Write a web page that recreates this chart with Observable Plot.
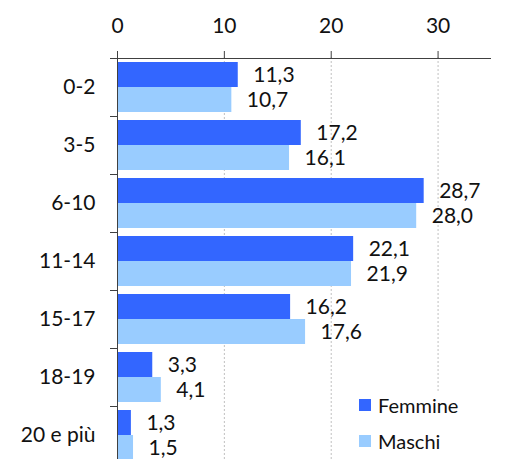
<!DOCTYPE html>
<html><head><meta charset="utf-8">
<script src="https://cdn.jsdelivr.net/npm/d3@7"></script>
<script src="https://cdn.jsdelivr.net/npm/@observablehq/plot@0.6"></script>
<style>
html,body{margin:0;padding:0;background:#fff;}
#wrap{position:relative;width:524px;height:459px;overflow:hidden;font-family:Lato,sans-serif;}
#legend{position:absolute;left:348px;top:392px;width:150px;height:67px;background:#fff;font-size:20px;color:#111;}
.item{position:absolute;left:11px;display:flex;align-items:center;}
.sw{width:12px;height:12px;margin-right:7px;}
</style></head>
<body><div id="wrap"><div id="chart"></div><div id="legend"></div></div>
<script>
const categories = ["0-2","3-5","6-10","11-14","15-17","18-19","20 e più"];
const femmine = [11.3,17.2,28.7,22.1,16.2,3.3,1.3];
const maschi = [10.7,16.1,28.0,21.9,17.6,4.1,1.5];
const seriesNames = ["Femmine","Maschi"];
const colors = ["#3366FF","#99CCFF"];
const xTicks = [0,10,20,30];

const fmt = v => v.toFixed(1).replace(".", ",");
const dataF = categories.map((c,i)=>({cat:c, value:femmine[i], s:"Femmine"}));
const dataM = categories.map((c,i)=>({cat:c, value:maschi[i], s:"Maschi"}));
const axisColor = "#404040";
const fs = 21;

const chart = Plot.plot({
  width: 524, height: 459,
  marginTop: 57, marginBottom: 0, marginLeft: 117, marginRight: 33,
  style: {fontFamily: "Lato, sans-serif", fontSize: fs + "px", color: "#111", background: "#fff"},
  x: {domain: [0,35], axis: null, label: null},
  y: {domain: categories, range: [57.5, 463.5], padding: 0, axis: null, label: null},
  color: {domain: seriesNames, range: colors},
  marks: [
    Plot.gridX(xTicks.filter(d=>d>0), {stroke: "#c0c0c0", strokeOpacity: 1, strokeDasharray: "2,2"}),
    Plot.barX(dataF, {x: "value", y: "cat", fill: colors[0], insetTop: 4, insetBottom: 29}),
    Plot.barX(dataM, {x: "value", y: "cat", fill: colors[1], insetTop: 29, insetBottom: 4}),
    Plot.text(dataF, {x: "value", y: "cat", text: d=>fmt(d.value), dy: -12.5, dx: 15, textAnchor: "start", fontSize: fs, fill: "#111"}),
    Plot.text(dataM, {x: "value", y: "cat", text: d=>fmt(d.value), dy: 12.5, dx: 15, textAnchor: "start", fontSize: fs, fill: "#111"}),
    Plot.ruleX([0], {stroke: axisColor}),
    Plot.ruleY(categories, {y: d=>d, dy: -29, x1: 0, x2: 0, insetLeft: -7, stroke: axisColor}),
    Plot.ruleY([categories[0]], {y: d=>d, dy: -29, x1: 0, x2: 35, insetLeft: -7, stroke: axisColor}),
    Plot.axisX({anchor: "top", ticks: xTicks, tickSize: 7, tickPadding: 18, stroke: axisColor, fontSize: fs, tickFormat: d=>d, fill:"#111", label: null}),
    Plot.axisY({anchor: "left", tickSize: 0, tickPadding: 22, fontSize: fs, fill: "#111", label: null})
  ]
});
document.getElementById("chart").appendChild(chart);

const legend = document.getElementById("legend");
seriesNames.forEach((name,i)=>{
  const it = document.createElement("div");
  it.className = "item";
  it.style.top = (i===0 ? 1 : 37) + "px";
  it.innerHTML = `<div class="sw" style="background:${colors[i]}"></div><span>${name}</span>`;
  legend.appendChild(it);
});
</script></body></html>
